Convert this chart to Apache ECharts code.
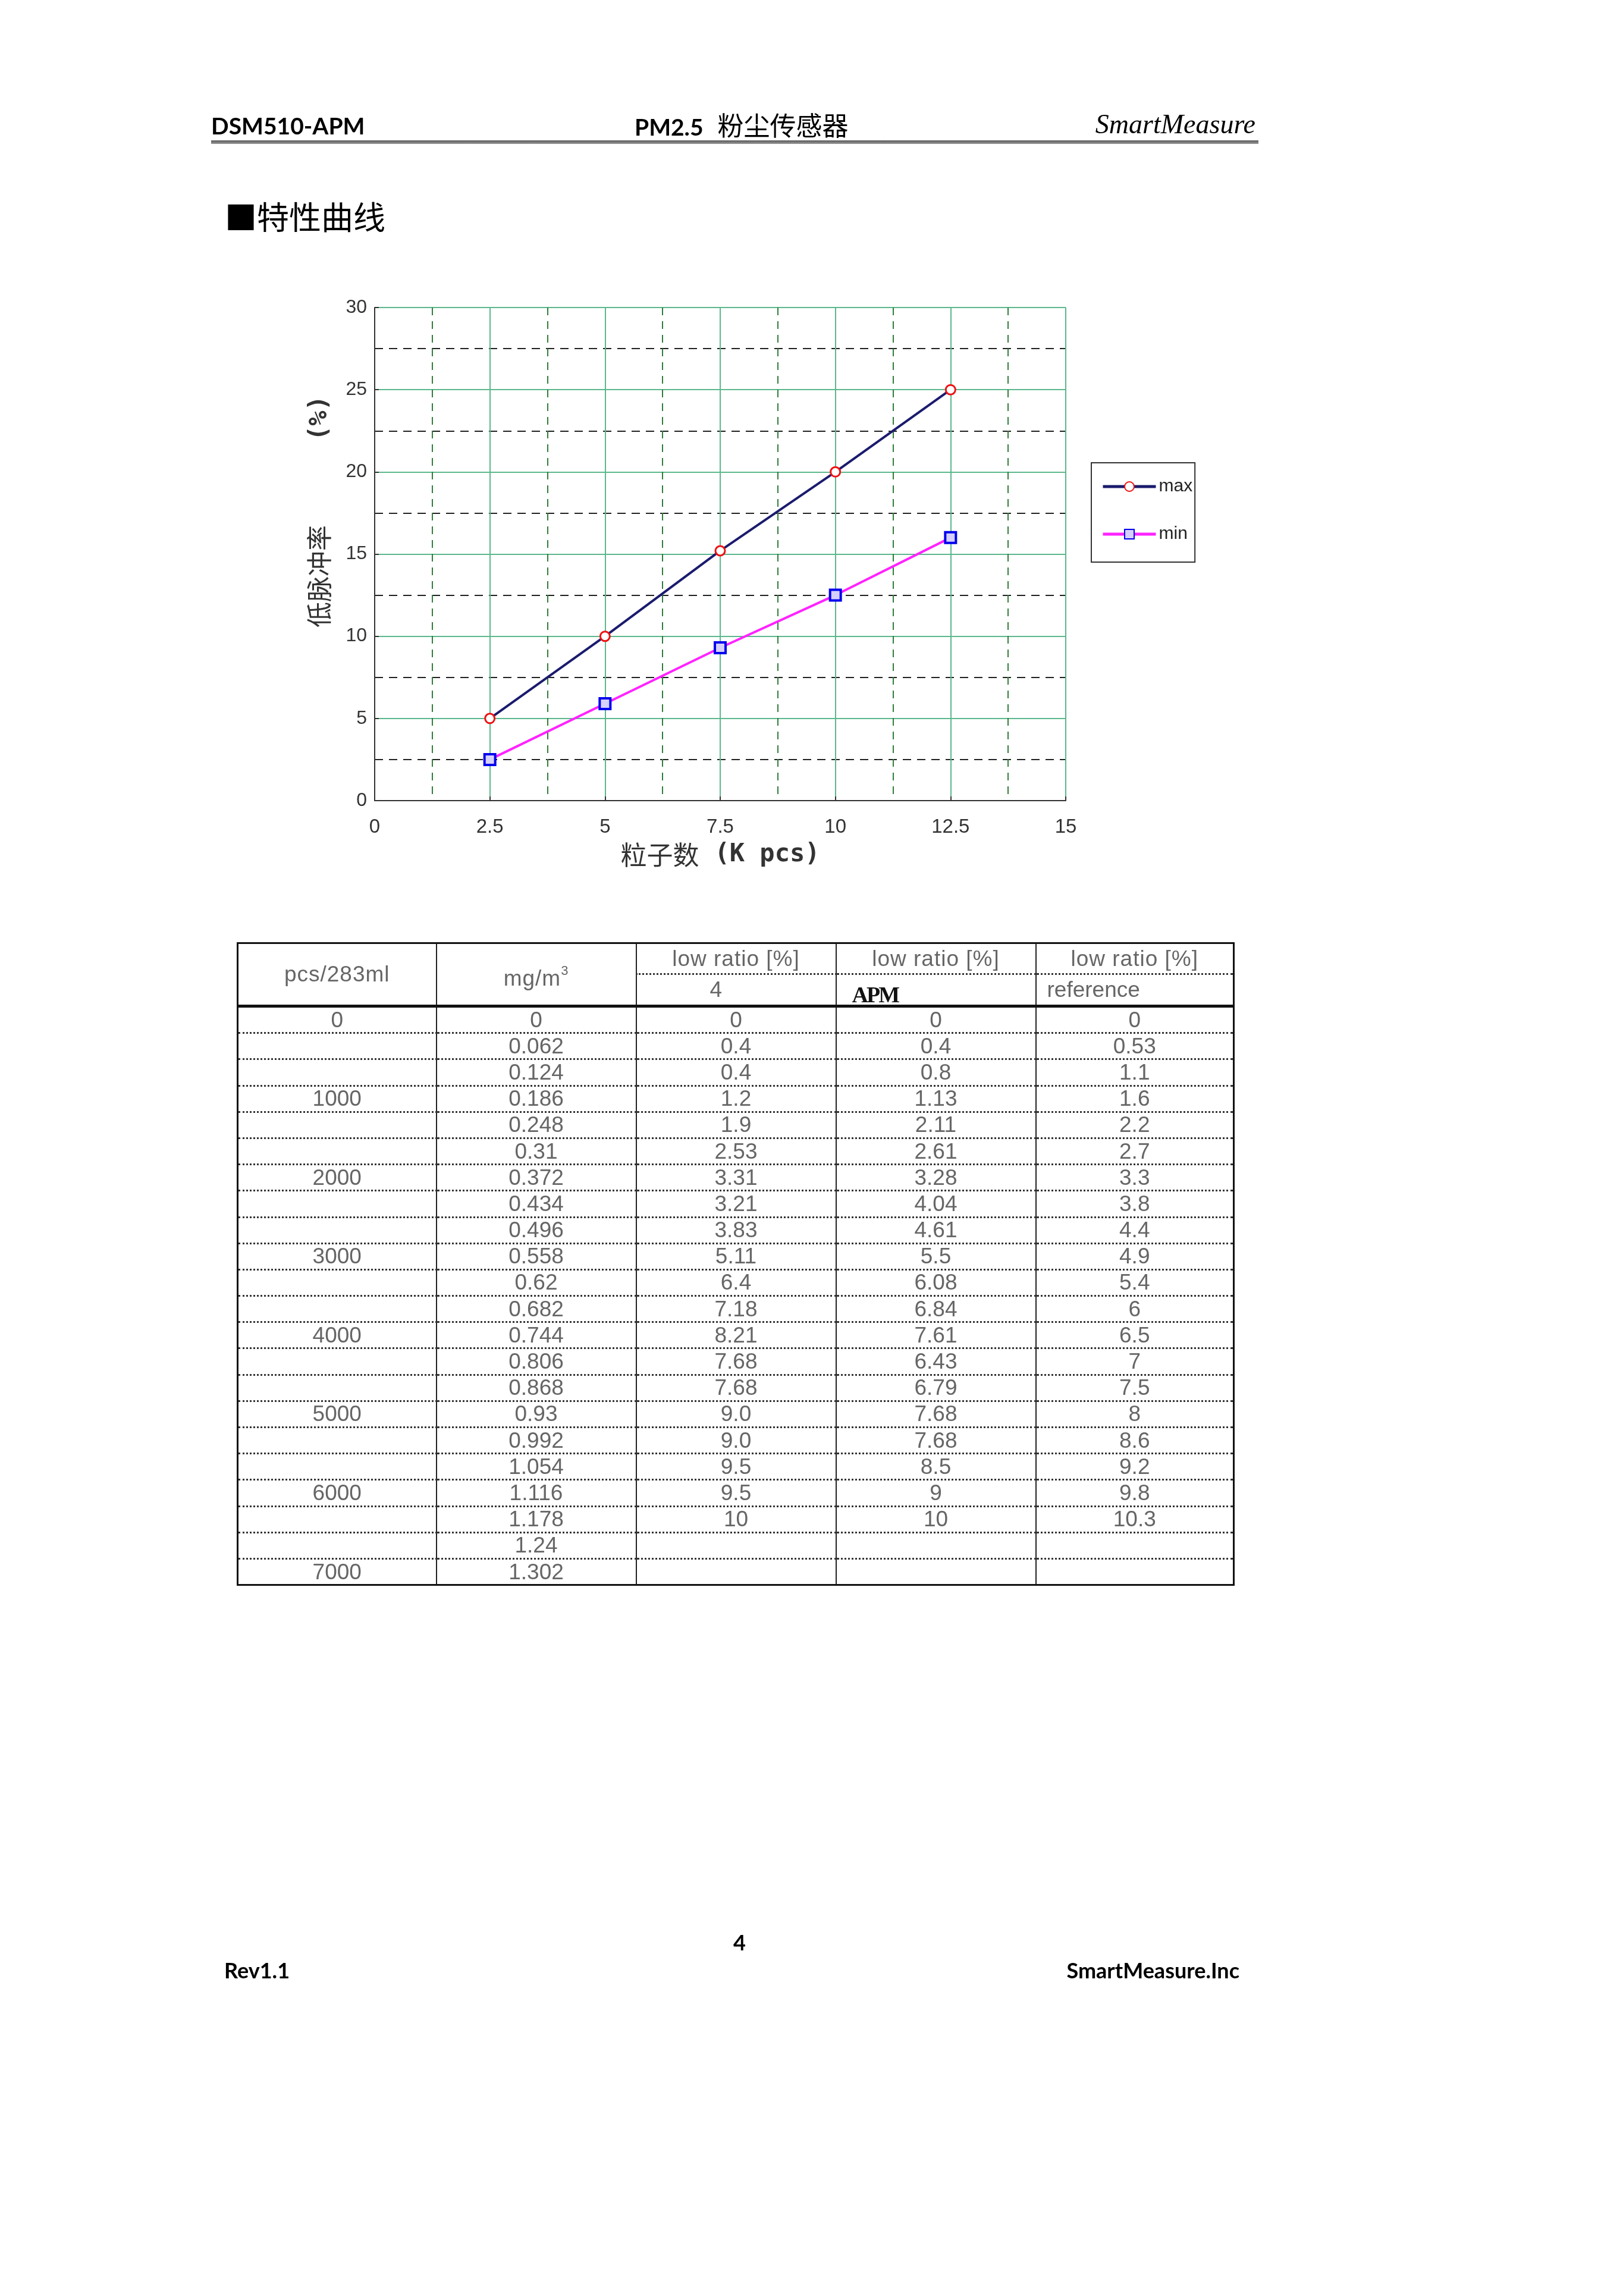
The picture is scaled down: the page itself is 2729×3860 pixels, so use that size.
<!DOCTYPE html>
<html lang="zh">
<head>
<meta charset="UTF-8">
<title>DSM510-APM 特性曲线</title>
<script src="https://cdn.jsdelivr.net/npm/echarts@6/dist/echarts.min.js"></script>
<style>
	html,body{margin:0;padding:0;background:#fff;}
	#page{position:relative;width:2729px;height:3860px;overflow:hidden;background:#fff;}
	#main{position:absolute;left:0;top:0;width:2729px;height:3860px;}
	.t{position:absolute;white-space:nowrap;color:#000;}
	.hd{font-family:Lato,'Liberation Sans',sans-serif;font-weight:bold;font-size:39px;line-height:39px;}
	.ft{font-size:36px;line-height:36px;}
	.cjk{font-family:'Noto Sans CJK SC',sans-serif;font-weight:normal;}
	#rule{position:absolute;left:355px;top:236px;width:1761px;height:6px;background:linear-gradient(#5a5a5a,#9a9a9a);}
	#tbl{position:absolute;left:398px;top:1584px;width:1675px;border-collapse:collapse;table-layout:fixed;
		border:3px solid #111;font-family:'Liberation Sans',Arial,sans-serif;font-size:37px;color:#666;}
	#tbl td{padding:0;text-align:center;vertical-align:middle;border-left:2px solid #222;border-right:2px solid #222;
		border-bottom:3px dotted #333;height:41.2px;line-height:38px;overflow:hidden;white-space:nowrap;}
	#tbl tr.h1 td{height:49px;letter-spacing:1px;}
	#tbl tr.h2 td{height:50px;border-bottom:5px solid #111;}
	#tbl td.hb{border-bottom:5px solid #111;}
	#tbl tr:last-child td{border-bottom:none;}
	#tbl sup{font-size:22px;vertical-align:18px;}
</style>
</head>
<body>
<div id="page">
	<div id="main"></div>

	<!-- 页眉 -->
	<div class="t hd" style="left:355px;top:192px;">DSM510-APM</div>
	<div class="t hd" style="left:1067px;top:190px;">PM2.5<span class="cjk" style="font-size:44px;margin-left:24px;">粉尘传感器</span></div>
	<div class="t" style="right:618px;top:186px;font-family:'Liberation Serif',serif;font-style:italic;font-size:46px;line-height:46px;">SmartMeasure</div>
	<div id="rule"></div>

	<div class="t cjk" style="left:378px;top:333px;font-size:54px;line-height:60px;">■特性曲线</div>

	<table id="tbl"></table>

	<!-- 页脚 -->
	<div class="t hd ft" style="left:1233px;top:3247px;">4</div>
	<div class="t hd ft" style="left:377px;top:3294px;">Rev1.1</div>
	<div class="t hd ft" style="right:645px;top:3294px;">SmartMeasure.Inc</div>
</div>

<script type="text/javascript">
	// 曲线数据
	var xValues = [2.5, 5, 7.5, 10, 12.5];
	var maxValues = [5, 10, 15.2, 20, 25];
	var minValues = [2.5, 5.9, 9.3, 12.5, 16];
	var seriesNames = ['max', 'min'];

	// 表格数据
	var headTop = ['pcs/283ml', 'mg/m<sup>3</sup>', 'low ratio [%]', 'low ratio [%]', 'low ratio [%]'];
	var headSub = ['4', 'APM', 'reference'];
	var pcsCol = ['0','','','1000','','','2000','','','3000','','','4000','','','5000','','','6000','','','7000'];
	var mgCol = ['0','0.062','0.124','0.186','0.248','0.31','0.372','0.434','0.496','0.558','0.62','0.682',
		'0.744','0.806','0.868','0.93','0.992','1.054','1.116','1.178','1.24','1.302'];
	var ratio4 = ['0','0.4','0.4','1.2','1.9','2.53','3.31','3.21','3.83','5.11','6.4','7.18',
		'8.21','7.68','7.68','9.0','9.0','9.5','9.5','10','',''];
	var ratioApm = ['0','0.4','0.8','1.13','2.11','2.61','3.28','4.04','4.61','5.5','6.08','6.84',
		'7.61','6.43','6.79','7.68','7.68','8.5','9','10','',''];
	var ratioRef = ['0','0.53','1.1','1.6','2.2','2.7','3.3','3.8','4.4','4.9','5.4','6',
		'6.5','7','7.5','8','8.6','9.2','9.8','10.3','',''];
	var colWidths = [334, 336, 336, 336, 333];

	var narrow = "'Liberation Sans Narrow','Liberation Sans',Arial,sans-serif";

	function pairs(ys){
		var out = [];
		for(var i=0;i<xValues.length;i++){ out.push([xValues[i], ys[i]]); }
		return out;
	}

	var myChart = echarts.init(document.getElementById('main'), null, {renderer:'canvas'});
	var option = {
		animation : false,
		grid : {left : 630, top : 517, width : 1162, height : 829},
		legend : {
			data : seriesNames,
			orient : 'vertical',
			left : 1835, top : 778,
			padding : [25, 4, 32, 17],
			itemWidth : 89, itemHeight : 20, itemGap : 50,
			borderColor : '#333', borderWidth : 2,
			lineStyle : {width : 5},
			textStyle : {fontFamily : narrow, fontSize : 30, color : '#222'}
		},
		xAxis : {
			type : 'value', min : 0, max : 15, interval : 2.5,
			name : '{a|粒子数}{b|(K pcs)}',
			nameLocation : 'middle', nameGap : 69,
			nameTextStyle : {
				rich : {
					a : {fontFamily : 'Noto Sans CJK SC', fontSize : 44, color : '#333', padding : [0, 26, 0, 0]},
					b : {fontFamily : 'DejaVu Sans Mono', fontWeight : 'bold', fontSize : 42, color : '#333'}
				}
			},
			axisLine : {lineStyle : {color : '#333', width : 2}},
			axisTick : {inside : true, length : 7, lineStyle : {color : '#333', width : 2}},
			axisLabel : {margin : 28, fontFamily : narrow, fontSize : 33, color : '#333'},
			splitLine : {show : true, lineStyle : {color : '#5cb88c', width : 2}},
			minorTick : {show : false, splitNumber : 2},
			minorSplitLine : {show : true, lineStyle : {color : '#2f7d3a', width : 2, type : [13, 10]}}
		},
		yAxis : {
			type : 'value', min : 0, max : 30, interval : 5,
			axisLine : {show : true, lineStyle : {color : '#333', width : 2}},
			axisTick : {show : true, inside : true, length : 7, lineStyle : {color : '#333', width : 2}},
			axisLabel : {margin : 13, fontFamily : narrow, fontSize : 32, color : '#333'},
			splitLine : {show : true, lineStyle : {color : '#5cb88c', width : 2}},
			minorTick : {show : false, splitNumber : 2},
			minorSplitLine : {show : true, lineStyle : {color : '#222', width : 2, type : [14, 10]}}
		},
		graphic : [
			{type : 'text', x : 537, y : 969, rotation : Math.PI / 2,
				style : {text : '低脉冲率', fontFamily : 'Noto Sans CJK SC', fontSize : 43, fill : '#333',
					align : 'center', verticalAlign : 'middle'}},
			{type : 'text', x : 538, y : 703, rotation : Math.PI / 2,
				style : {text : '(%)', fontFamily : 'DejaVu Sans Mono', fontWeight : 'bold', fontSize : 42, fill : '#333',
					align : 'center', verticalAlign : 'middle'}}
		],
		series : [{
			name : 'max', type : 'line', data : pairs(maxValues),
			symbol : 'circle', symbolSize : 16, z : 4,
			lineStyle : {color : '#1b1b6e', width : 4},
			itemStyle : {color : '#fff', borderColor : '#ee1111', borderWidth : 3}
		}, {
			name : 'min', type : 'line', data : pairs(minValues),
			symbol : 'rect', symbolSize : 18, z : 3,
			lineStyle : {color : '#ff22ff', width : 4},
			itemStyle : {color : '#d6d0ff', borderColor : '#0000ee', borderWidth : 4}
		}]
	};
	myChart.setOption(option);

	// 表格
	var html = '<colgroup>';
	for(var c=0;c<colWidths.length;c++){ html += '<col style="width:'+colWidths[c]+'px">'; }
	html += '</colgroup>';
	html += '<tr class="h1">'
		+ '<td rowspan="2" class="hb">'+headTop[0]+'</td>'
		+ '<td rowspan="2" class="hb">'+headTop[1]+'</td>'
		+ '<td>'+headTop[2]+'</td><td>'+headTop[3]+'</td><td>'+headTop[4]+'</td></tr>';
	html += '<tr class="h2">'
		+ '<td style="text-align:left;padding-left:123px;">'+headSub[0]+'</td>'
		+ '<td style="text-align:left;padding-left:26px;font-family:\'Liberation Serif\',serif;font-weight:bold;color:#111;font-size:38px;letter-spacing:-3px;vertical-align:bottom;line-height:34px;">'+headSub[1]+'</td>'
		+ '<td style="text-align:left;padding-left:18px;">'+headSub[2]+'</td></tr>';
	for(var i=0;i<mgCol.length;i++){
		html += '<tr><td>'+pcsCol[i]+'</td><td>'+mgCol[i]+'</td><td>'+ratio4[i]+'</td><td>'+ratioApm[i]+'</td><td>'+ratioRef[i]+'</td></tr>';
	}
	document.getElementById('tbl').innerHTML = html;
</script>
</body>
</html>
